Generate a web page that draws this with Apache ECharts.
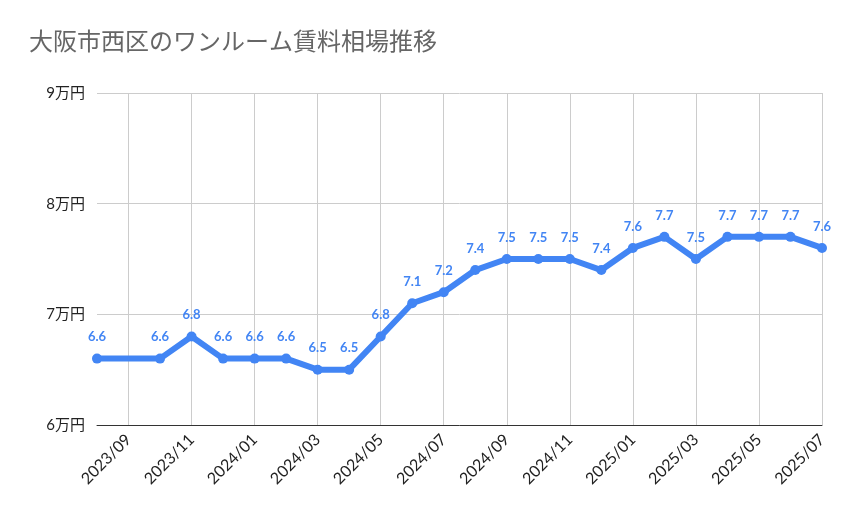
<!DOCTYPE html>
<html><head><meta charset="utf-8">
<script src="https://cdn.jsdelivr.net/npm/echarts@6/dist/echarts.min.js"></script>
<style>html,body{margin:0;padding:0;background:#fff}#c{width:859px;height:531px}</style>
</head><body><div id="c"></div>
<script>
const months = ['2023/08','2023/09','2023/10','2023/11','2023/12','2024/01','2024/02','2024/03','2024/04','2024/05','2024/06','2024/07','2024/08','2024/09','2024/10','2024/11','2024/12','2025/01','2025/02','2025/03','2025/04','2025/05','2025/06','2025/07']
const rent = [6.6, null, 6.6, 6.8, 6.6, 6.6, 6.6, 6.5, 6.5, 6.8, 7.1, 7.2, 7.4, 7.5, 7.5, 7.5, 7.4, 7.6, 7.7, 7.5, 7.7, 7.7, 7.7, 7.6]
const font = 'Lato, "Noto Sans CJK JP", sans-serif'
const showLabel = (i) => i % 2 === 1

const chart = echarts.init(document.getElementById('c'))
chart.setOption({
  animation: false,
  title: {
    text: '大阪市西区のワンルーム賃料相場推移',
    left: 24, top: 24,
    textStyle: { color: '#666', fontSize: 24, fontWeight: 'normal', fontFamily: '"Noto Sans CJK JP", sans-serif' }
  },
  grid: { left: 97, right: 37, top: 93, bottom: 106 },
  xAxis: {
    type: 'category',
    data: months,
    boundaryGap: false,
    axisLine: { lineStyle: { color: '#333' } },
    axisTick: { show: false },
    axisLabel: { interval: showLabel, rotate: 45, color: '#222', fontSize: 16, fontFamily: font, margin: 12 },
    splitLine: { show: true, interval: showLabel, lineStyle: { color: '#ccc' } }
  },
  yAxis: {
    type: 'value',
    min: 6, max: 9, interval: 1,
    axisLabel: { formatter: '{value}万円', color: '#222', fontSize: 15, fontFamily: font, margin: 12 },
    splitLine: { lineStyle: { color: '#ccc' } }
  },
  series: [{
    type: 'line',
    data: rent,
    connectNulls: true,
    lineStyle: { color: '#4285f4', width: 6 },
    itemStyle: { color: '#4285f4' },
    symbol: 'circle',
    symbolSize: 10,
    label: {
      show: true, position: 'top', distance: 10,
      color: '#4285f4', fontSize: 13, fontWeight: 'bold', fontFamily: font,
      formatter: (p) => p.value.toFixed(1)
    }
  }]
})
</script></body></html>
